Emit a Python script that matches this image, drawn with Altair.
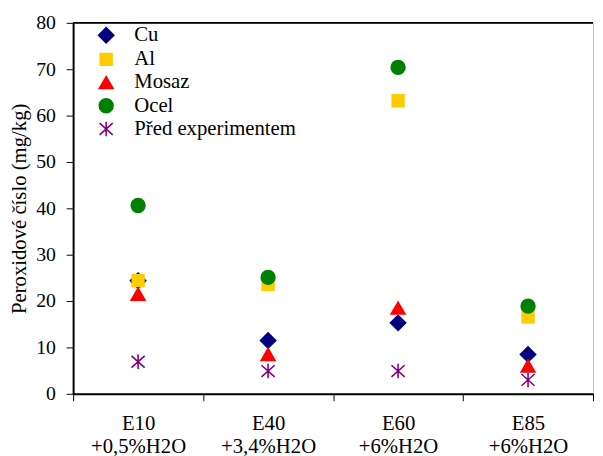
import altair as alt
import pandas as pd

categories = ["E10 +0,5%H2O", "E40 +3,4%H2O", "E60 +6%H2O", "E85 +6%H2O"]
series_names = ["Cu", "Al", "Mosaz", "Ocel", "Před experimentem"]
cu = [24.4, 11.5, 15.3, 8.5]
al = [24.4, 23.6, 63.2, 16.6]
mosaz = [21.5, 8.5, 18.5, 6.0]
ocel = [40.6, 25.1, 70.4, 18.9]
pred = [6.9, 4.9, 4.9, 3.0]
colors = ["#000080", "#FFCC00", "#FF0000", "#008000", "#800080"]
shapes = ["M-1.1,0L0,-1.1L1.1,0L0,1.1Z",
          "M-0.85,-0.85L0.85,-0.85L0.85,0.85L-0.85,0.85Z",
          "triangle-up", "circle",
          "M-0.95,-0.85L0.95,0.85M-0.95,0.85L0.95,-0.85M0,-1.05L0,1.05"]
y_ticks = [0, 10, 20, 30, 40, 50, 60, 70, 80]

rows = []
for name, vals in zip(series_names, [cu, al, mosaz, ocel, pred]):
    for c, v in zip(categories, vals):
        rows.append({"kategorie": c, "serie": name, "hodnota": v})
df = pd.DataFrame(rows)
df["poradi"] = range(len(df))

font = "Liberation Serif"

legend = alt.Legend(title=None, orient="none", legendX=23, legendY=2,
                    labelFont=font, labelFontSize=21, labelColor="black",
                    labelLimit=400,
                    symbolSize=196, symbolStrokeWidth=1.6, rowPadding=1.5,
                    labelOffset=18)

points = alt.Chart(df).mark_point(filled=True, size=196, strokeWidth=1.6, opacity=1).encode(
    x=alt.X("kategorie:N", sort=categories,
            scale=alt.Scale(type="band", paddingInner=0, paddingOuter=0),
            axis=alt.Axis(title=None, labelAngle=0, tickBand="extent",
                          labelExpr="split(datum.label, ' ')",
                          labelFontSize=21, labelLineHeight=23,
                          labelPadding=12, labelBaseline="top")),
    y=alt.Y("hodnota:Q", scale=alt.Scale(domain=[0, 80], nice=False),
            axis=alt.Axis(values=y_ticks, title="Peroxidové číslo (mg/kg)",
                          labelFontSize=20, labelPadding=11, titlePadding=6)),
    fill=alt.Fill("serie:N", sort=series_names,
                  scale=alt.Scale(domain=series_names, range=colors), legend=legend),
    stroke=alt.Stroke("serie:N", sort=series_names,
                      scale=alt.Scale(domain=series_names, range=colors), legend=legend),
    shape=alt.Shape("serie:N", sort=series_names,
                    scale=alt.Scale(domain=series_names, range=shapes), legend=legend),
    order=alt.Order("poradi:Q"),
)

top_border = alt.Chart(pd.DataFrame({"hodnota": [80]})).mark_rule(
    color="black", strokeWidth=2).encode(y=alt.Y("hodnota:Q"))

chart = alt.layer(points, top_border).properties(
    width=527, height=376,
    autosize=alt.AutoSizeParams(type="none"),
    padding={"left": 66, "top": 12, "right": 2, "bottom": 62},
).configure(
    font=font
).configure_view(
    stroke="#c0c0c0", strokeWidth=1
).configure_axis(
    grid=False, domainColor="black", domainWidth=2, tickColor="black",
    tickWidth=1, tickSize=7, labelColor="black", labelFont=font,
    titleFont=font, titleFontSize=21, titleFontWeight="normal", titleColor="black",
)

chart.save("out.html", embed_options={"renderer": "svg", "actions": False})
